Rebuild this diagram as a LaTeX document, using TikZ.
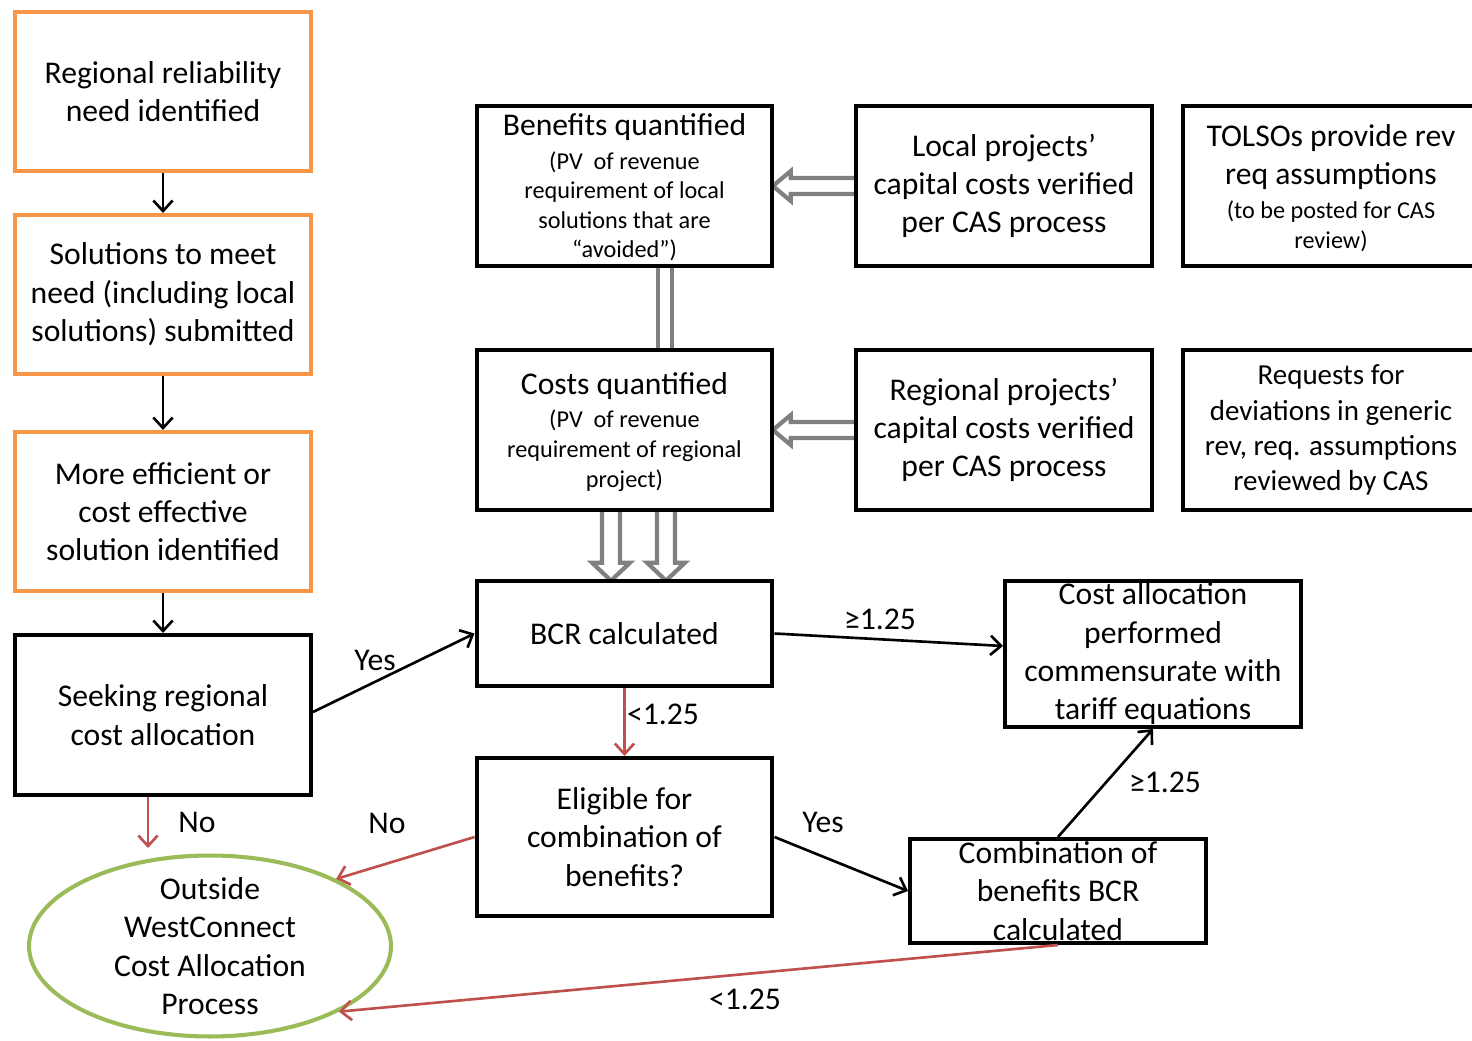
\documentclass[tikz,border=0pt]{standalone}
\usepackage{fontspec}
\setmainfont{Carlito}
\usetikzlibrary{arrows.meta,calc,shapes.geometric}
\definecolor{boxorange}{HTML}{F79646}
\definecolor{okgreen}{HTML}{9BBB59}
\definecolor{rejectred}{HTML}{C0504D}
\definecolor{feedgray}{HTML}{808080}
\newcommand\bodyfont{\fontsize{18}{21.8}\selectfont}
\newcommand\notefont{\fontsize{13.8}{16.8}\selectfont}
% a block of smaller note lines, first baseline on the current line
\newcommand\notelines[1]{{\notefont\begin{tabular}[t]{@{}c@{}}#1\end{tabular}}}

\begin{document}
\begin{tikzpicture}[x=0.02cm,y=-0.02cm,
  frame/.style={draw=black, line width=2.3pt, fill=white, minimum width=5.92cm, inner sep=0pt},
  oframe/.style={frame, draw=boxorange},
  txt/.style={align=center, inner sep=0pt, font=\bodyfont},
  lbl/.style={inner sep=0pt, font=\bodyfont},
  flow/.style={line width=1.5pt, -{Straight Barb[length=6pt,width=11pt]}},
  reject/.style={flow, draw=rejectred},
  feed/.style={draw=feedgray, line width=2.4pt, fill=white, line join=miter}]

\fill[white] (0,0) rectangle (1472,1041);
\useasboundingbox (0,0) rectangle (1472,1041);

% --- box centres ---
\path
  (163,91.5)  coordinate (p-need)
  (163,294.5) coordinate (p-sol)
  (163,511.5) coordinate (p-eff)
  (163,715)   coordinate (p-seek)
  (624.5,186) coordinate (p-benef)
  (1004,186)  coordinate (p-local)
  (1331,186)  coordinate (p-tolso)
  (624.5,430) coordinate (p-costs)
  (1004,430)  coordinate (p-regional)
  (1331,430)  coordinate (p-requests)
  (624.5,633.5) coordinate (p-bcr)
  (1153,654)  coordinate (p-alloc)
  (624.5,837) coordinate (p-elig)
  (1058,891)  coordinate (p-comb)
  (210,946)   coordinate (p-outside);

% invisible placeholders so the feed arrows can be drawn beneath the boxes
\foreach \n/\h in {benef/3.2, local/3.2, costs/3.2, regional/3.2, bcr/2.1}
  \node[minimum width=5.92cm, minimum height=\h cm, inner sep=0pt] (g-\n) at (p-\n) {};

% --- grey feed arrows ---
% local capital costs -> benefits
\draw[feed] ($(g-local.west)+(0,-8)$) -- ($(g-benef.east)+(18,-8)$)
  -- ($(g-benef.east)+(18,-15)$) -- ($(g-benef.east)+(0,0)$)
  -- ($(g-benef.east)+(18,15)$) -- ($(g-benef.east)+(18,8)$)
  -- ($(g-local.west)+(0,8)$);
% regional capital costs -> costs
\draw[feed] ($(g-regional.west)+(0,-8)$) -- ($(g-costs.east)+(18,-8)$)
  -- ($(g-costs.east)+(18,-15)$) -- ($(g-costs.east)+(0,0)$)
  -- ($(g-costs.east)+(18,15)$) -- ($(g-costs.east)+(18,8)$)
  -- ($(g-regional.west)+(0,8)$);
% benefits -- costs link
\draw[feed] ($(g-benef.south)+(33.5,0)$) -- ($(g-costs.north)+(33.5,0)$);
\draw[feed] ($(g-benef.south)+(47.5,0)$) -- ($(g-costs.north)+(47.5,0)$);
% costs and benefits -> BCR
\foreach \dx in {-13.5, 41.5}{
  \draw[feed] ($(g-costs.south)+(\dx-9,0)$) -- ($(g-bcr.north)+(\dx-9,-18)$)
    -- ($(g-bcr.north)+(\dx-19,-18)$) -- ($(g-bcr.north)+(\dx,0)$)
    -- ($(g-bcr.north)+(\dx+19,-18)$) -- ($(g-bcr.north)+(\dx+9,-18)$)
    -- ($(g-costs.south)+(\dx+9,0)$);
}

% --- boxes ---
\node[oframe, minimum height=3.18cm] (need) at (p-need) {};
\node[oframe, minimum height=3.18cm] (sol)  at (p-sol) {};
\node[oframe, minimum height=3.18cm] (eff)  at (p-eff) {};
\node[frame, minimum height=3.2cm]  (seek) at (p-seek) {};
\node[frame, minimum height=3.2cm]  (benef) at (p-benef) {};
\node[frame, minimum height=3.2cm]  (local) at (p-local) {};
\node[frame, minimum height=3.2cm]  (tolso) at (p-tolso) {};
\node[frame, minimum height=3.2cm]  (costs) at (p-costs) {};
\node[frame, minimum height=3.2cm]  (regional) at (p-regional) {};
\node[frame, minimum height=3.2cm]  (requests) at (p-requests) {};
\node[frame, minimum height=2.1cm]  (bcr) at (p-bcr) {};
\node[frame, minimum height=2.92cm] (alloc) at (p-alloc) {};
\node[frame, minimum height=3.16cm] (elig) at (p-elig) {};
\node[frame, minimum height=2.08cm] (comb) at (p-comb) {};
\node[ellipse, draw=okgreen, line width=2.3pt, fill=white, inner sep=0pt,
      minimum width=7.24cm, minimum height=3.62cm] (outside) at (p-outside) {};

% --- box texts ---
\node[txt] (t-need) at (p-need) {Regional reliability\\need identified};
\node[txt] (t-sol) at (p-sol) {Solutions to meet\\need (including local\\solutions) submitted};
\node[txt] (t-eff) at (p-eff) {More efficient or\\cost effective\\solution identified};
\node[txt] (t-seek) at (p-seek) {Seeking regional\\cost allocation};
\node[txt] (t-benef) at ($(p-benef)+(0,4)$) {Benefits quantified\\[-2.5pt]
  \notelines{(PV\ \ of revenue\\requirement of local\\solutions that are\\“avoided”)}};
\node[txt] (t-local) at (p-local) {Local projects’\\capital costs verified\\per CAS process};
\node[txt] (t-tolso) at ($(p-tolso)+(0,5)$) {TOLSOs provide rev\\req assumptions\\[-2.5pt]
  \notelines{(to be posted for CAS\\review)}};
\node[txt] (t-costs) at ($(p-costs)+(0,4)$) {Costs quantified\\[-2.5pt]
  \notelines{(PV\ \ of revenue\\requirement of regional\\project)}};
\node[txt] (t-regional) at (p-regional) {Regional projects’\\capital costs verified\\per CAS process};
\node[txt, font=\fontsize{16.5}{20}\selectfont] (t-requests) at (p-requests)
  {Requests for\\deviations in generic\\rev, req. assumptions\\reviewed by CAS};
\node[txt] (t-bcr) at (p-bcr) {BCR calculated};
\node[txt] (t-alloc) at (p-alloc) {Cost allocation\\performed\\commensurate with\\tariff equations};
\node[txt] (t-elig) at (p-elig) {Eligible for\\combination of\\benefits?};
\node[txt] (t-comb) at (p-comb) {Combination of\\benefits BCR\\calculated};
\node[txt] (t-outside) at (p-outside) {Outside\\WestConnect\\Cost Allocation\\Process};

% --- connectors ---
\draw[flow] (need) -- (sol);
\draw[flow] (sol) -- (eff);
\draw[flow] (eff) -- (seek);
\draw[flow] ($(seek.east)+(0,-3)$) -- (bcr.west);
\draw[flow] (bcr.east) -- ($(alloc.west)+(0,-8)$);
\draw[reject] (bcr.south) -- (elig.north);
\coordinate (no-tip) at ($(seek.south)+(-15,51)$);
\draw[reject] ($(seek.south)+(-15,0)$) -- (no-tip);
\draw[reject] (elig.west) -- (outside.28);
\draw[flow] (elig.east) -- (comb.west);
\draw[flow] (comb.north) -- (alloc.south);
\draw[reject] (comb.south) -- (outside.-27);

% --- connector labels ---
\node[lbl] (l-yes1) at (375,660) {Yes};
\node[lbl] (l-ge1) at (880,619) {≥1.25};
\node[lbl] (l-lt1) at (663,714) {<1.25};
\node[lbl] (l-no1) at (197,822) {No};
\node[lbl] (l-no2) at (387,823) {No};
\node[lbl] (l-yes2) at (823,822) {Yes};
\node[lbl] (l-ge2) at (1165,782) {≥1.25};
\node[lbl] (l-lt2) at (745,999) {<1.25};
\end{tikzpicture}
\end{document}
